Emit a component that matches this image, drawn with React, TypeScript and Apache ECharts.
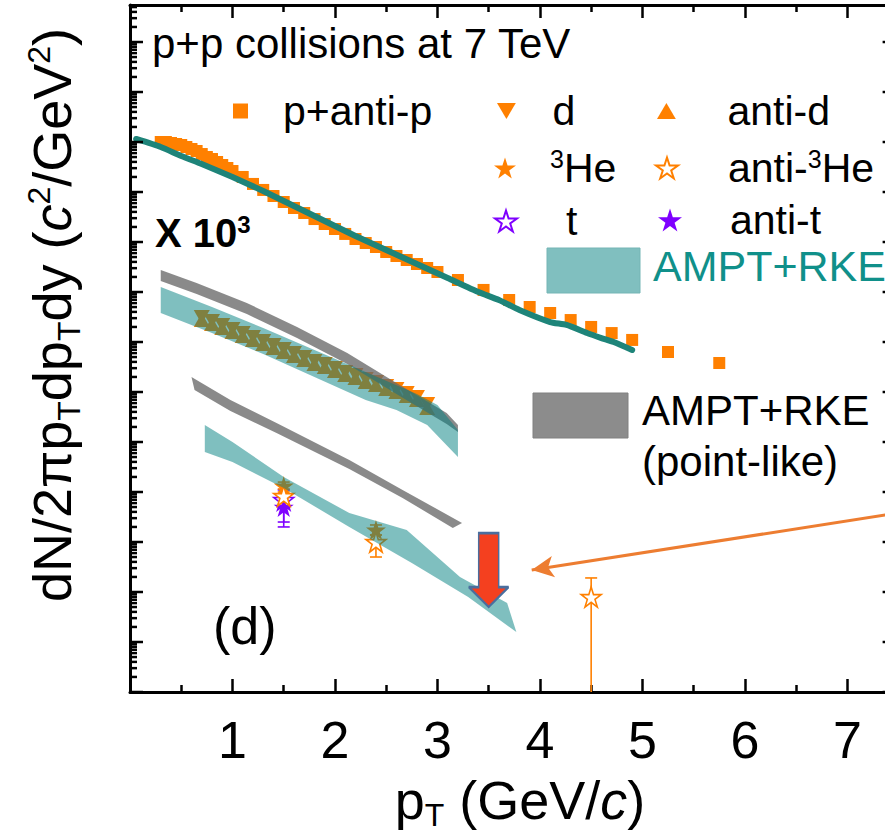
import React, { useEffect, useRef } from 'react';
import * as echarts from 'echarts';

const FONT = '"Liberation Sans", Arial, Helvetica, sans-serif';
const ORANGE = '#ff8000';
const PURPLE = '#7f00ff';
const TEAL_FILL = 'rgba(0,128,128,0.5)';
const TEAL_LINE = '#1e8479';
const GRAY_FILL = 'rgba(105,105,105,0.78)';

const X_MIN = 0;
const X_MAX = 7.5;
const Y_MIN = 1e-12;
const Y_MAX = 55;

// p + anti-p spectrum
const protonPt = [0.3, 0.35, 0.4, 0.45, 0.5, 0.55, 0.6, 0.65, 0.7, 0.75, 0.8, 0.85, 0.9, 0.95, 1.0,
  1.1, 1.2, 1.3, 1.4, 1.5, 1.6, 1.7, 1.8, 1.9, 2.0, 2.1, 2.2, 2.3, 2.4, 2.5, 2.6, 2.7, 2.8, 2.9, 3.0,
  3.2, 3.45, 3.7, 3.9, 4.1, 4.3, 4.5, 4.7, 4.9, 5.25, 5.75];
const protonYield = [1.00e-1, 1.00e-1, 9.55e-2, 9.12e-2, 8.71e-2, 7.94e-2, 7.24e-2, 6.61e-2, 5.75e-2, 5.01e-2,
  4.57e-2, 3.98e-2, 3.47e-2, 3.02e-2, 2.63e-2,
  2.00e-2, 1.45e-2, 1.10e-2, 8.32e-3, 6.31e-3, 4.79e-3, 3.80e-3, 2.88e-3, 2.29e-3, 1.82e-3,
  1.45e-3, 1.15e-3, 9.55e-4, 7.94e-4, 6.31e-4, 5.25e-4, 4.37e-4, 3.63e-4, 3.02e-4, 2.51e-4,
  1.74e-4, 1.10e-4, 6.92e-5, 5.01e-5, 3.80e-5, 2.75e-5, 2.00e-5, 1.51e-5, 1.10e-5, 6.31e-6, 3.80e-6];

// AMPT+RKE curve for protons
const amptProtonPt = [0.06, 0.3, 0.5, 0.7, 1.0, 1.3, 1.6, 1.9, 2.2, 2.5, 2.8, 3.1, 3.4, 3.6, 3.8, 4.1, 4.26, 4.46, 4.6, 4.72, 4.9];
const amptProtonYield = [1.15e-1, 7.94e-2, 5.25e-2, 3.63e-2, 2.00e-2, 1.05e-2, 5.25e-3, 2.63e-3, 1.32e-3, 6.92e-4,
  3.63e-4, 1.91e-4, 1.00e-4, 6.92e-5, 4.37e-5, 2.51e-5, 2.19e-5, 1.51e-5, 1.20e-5, 1.00e-5, 6.92e-6];

// deuterons (x 10^3)
const deuteronPt = [0.7, 0.8, 0.9, 1.0, 1.1, 1.2, 1.3, 1.4, 1.5, 1.6, 1.7, 1.8, 1.9, 2.0, 2.1, 2.2, 2.3, 2.4, 2.5, 2.6, 2.7, 2.8, 2.9];
const deuteronYield = [3.16e-5, 2.63e-5, 2.19e-5, 1.82e-5, 1.51e-5, 1.26e-5, 1.05e-5, 8.71e-6, 7.24e-6, 6.03e-6,
  5.01e-6, 4.17e-6, 3.63e-6, 3.02e-6, 2.51e-6, 2.19e-6, 1.82e-6, 1.58e-6, 1.32e-6, 1.15e-6, 9.55e-7, 7.94e-7, 5.75e-7];
const antiDeuteronYield = [2.75e-5, 2.29e-5, 1.91e-5, 1.58e-5, 1.32e-5, 1.10e-5, 9.12e-6, 7.59e-6, 6.31e-6, 5.25e-6,
  4.37e-6, 3.63e-6, 3.16e-6, 2.63e-6, 2.19e-6, 1.91e-6, 1.58e-6, 1.38e-6, 1.15e-6, 1.00e-6, 8.32e-7, 6.92e-7, 4.79e-7];

// model bands: upper edge left to right, lower edge right to left
const dBandUpperPt = [0.3, 0.8, 1.3, 1.8, 2.3, 2.8, 3.0, 3.2];
const dBandUpper = [1.26e-4, 5.01e-5, 1.91e-5, 6.92e-6, 2.51e-6, 9.12e-7, 5.50e-7, 1.74e-7];
const dBandLowerPt = [3.2, 2.9, 2.6, 2.3, 1.8, 1.3, 0.8, 0.3];
const dBandLower = [5.01e-8, 2.19e-7, 4.37e-7, 6.92e-7, 2.00e-6, 5.75e-6, 1.51e-5, 3.80e-5];

const dPointUpperPt = [0.3, 0.65, 1.14, 1.63, 2.12, 2.6, 3.09, 3.2];
const dPointUpper = [2.75e-4, 1.51e-4, 6.03e-5, 2.00e-5, 6.03e-6, 1.51e-6, 3.80e-7, 2.19e-7];
const dPointLowerPt = [3.2, 3.09, 2.6, 2.12, 1.63, 1.14, 0.65, 0.3];
const dPointLower = [1.58e-7, 2.29e-7, 9.12e-7, 3.63e-6, 1.20e-5, 3.63e-5, 9.12e-5, 1.66e-4];

const heBandUpperPt = [0.73, 1.0, 1.5, 2.14, 2.7, 3.22, 3.68, 3.77];
const heBandUpper = [2.19e-7, 1.00e-7, 2.00e-8, 3.80e-9, 1.74e-9, 2.00e-10, 6.03e-11, 1.58e-11];
const heBandLowerPt = [3.77, 3.3, 2.75, 2.14, 1.5, 1.0, 0.73];
const heBandLower = [1.58e-11, 7.94e-11, 3.80e-10, 2.00e-9, 1.20e-8, 3.98e-8, 6.31e-8];

const hePointUpperPt = [0.6, 0.98, 1.43, 2.14, 2.66, 3.24];
const hePointUpper = [2.00e-6, 6.92e-7, 2.40e-7, 4.37e-8, 1.10e-8, 2.40e-9];
const hePointLowerPt = [3.15, 2.66, 2.14, 1.43, 0.98, 0.63];
const hePointLower = [1.91e-9, 7.59e-9, 2.88e-8, 1.51e-7, 4.17e-7, 1.10e-6];

// A = 3 nuclei: [pT, yield] and [pT, low, high]
const he3 = [[1.5, 1.32e-8], [2.4, 1.74e-9]];
const he3Err = [[1.5, 1.00e-8, 1.58e-8], [2.4, 1.38e-9, 2.19e-9]];
const antiHe3 = [[1.5, 8.32e-9], [2.4, 1.00e-9], [4.5, 7.94e-11]];
const antiHe3Err = [[1.5, 5.75e-9, 1.15e-8], [2.4, 5.01e-10, 1.38e-9], [4.5, Y_MIN, 1.91e-10]];
const triton = [[1.5, 6.92e-9]];
const tritonErr = [[1.5, 2.51e-9, 1.10e-8]];
const antiTriton = [[1.5, 5.01e-9]];
const antiTritonErr = [[1.5, 2.00e-9, 8.71e-9]];

// upper limit marker and the annotation pointing at it
const upperLimit = [[3.5, 2.75e-10]];
const noteFrom = [7.5, 3.82e-9];
const noteTo = [3.92, 2.75e-10];

const X_TICK_LABELS = ['', '1', '2', '3', '4', '5', '6', '7'];
const Y_DECADES = [-12, -11, -10, -9, -8, -7, -6, -5, -4, -3, -2, -1, 0, 1];
const Y_MINOR = [2, 3, 4, 5, 6, 7, 8, 9];

const STAR = 'path://M50,0L61.2,34.5L97.6,34.5L68.2,55.9L79.4,90.5L50,69.1L20.6,90.5L31.8,55.9L2.4,34.5L38.8,34.5Z';
const TRI_DOWN = 'path://M0,0L20,0L10,17Z';
const TRI_UP = 'path://M10,0L20,17L0,17Z';
const ARROW_DOWN = 'path://M10,0H30V54H40L20,74L0,54H10Z';

const zip = (xs: number[], ys: number[]) => xs.map((x, i) => [x, ys[i]]);

const yTicks: number[][] = [];
Y_DECADES.forEach((k) => {
  yTicks.push([0, Math.pow(10, k), 1]);
  Y_MINOR.forEach((m) => {
    const v = m * Math.pow(10, k);
    if (v < Y_MAX) yTicks.push([0, v, 0]);
  });
});

const bandSeries = (name: string, upper: number[][], lower: number[][], fill: string, z: number) => ({
  type: 'custom',
  name,
  z,
  silent: true,
  data: [[1, 1]],
  renderItem: (_p: any, api: any) => ({
    type: 'polygon',
    shape: { points: [...upper, ...lower].map((pt) => api.coord(pt)) },
    style: { fill, stroke: 'none' },
  }),
});

const errorSeries = (data: number[][], color: string, z: number) => ({
  type: 'custom',
  z,
  silent: true,
  encode: { x: 0, y: [1, 2] },
  data,
  renderItem: (_p: any, api: any) => {
    const x = api.value(0);
    const lo = api.value(1);
    const hi = api.value(2);
    const a = api.coord([x, hi]);
    const b = api.coord([x, lo]);
    const st = { stroke: color, lineWidth: 1.6 };
    const children: any[] = [
      { type: 'line', shape: { x1: a[0], y1: a[1], x2: b[0], y2: b[1] }, style: st },
      { type: 'line', shape: { x1: a[0] - 6, y1: a[1], x2: a[0] + 6, y2: a[1] }, style: st },
    ];
    if (lo > Y_MIN) {
      children.push({ type: 'line', shape: { x1: b[0] - 6, y1: b[1], x2: b[0] + 6, y2: b[1] }, style: st });
    }
    return { type: 'group', children };
  },
});

const LEGEND_TEXT: Record<string, string> = {
  'p+anti-p': 'p+anti-p',
  d: 'd',
  'anti-d': 'anti-d',
  '3He': '{sup|3}He',
  'anti-3He': 'anti-{sup|3}He',
  t: 't',
  'anti-t': 'anti-t',
};

const legendAt = (name: string, left: number, cy: number, w: number, h: number, textLeft: number, extra: any = {}) => ({
  show: true,
  left,
  top: cy - 23,
  padding: 0,
  itemWidth: w,
  itemHeight: h,
  selectedMode: false,
  data: [{ name, ...extra }],
  formatter: (n: string) => LEGEND_TEXT[n],
  textStyle: {
    fontFamily: FONT,
    fontSize: 41,
    color: '#000',
    lineHeight: 46,
    padding: [0, 0, 0, textLeft - left - w - 5],
    rich: { sup: { fontFamily: FONT, fontSize: 25, color: '#000', padding: [0, 0, 18, 0] } },
  },
});

const xAxisBase = {
  type: 'value',
  min: X_MIN,
  max: X_MAX,
  interval: 1,
  axisLine: { show: true, onZero: false, lineStyle: { color: '#000', width: 3 } },
  axisTick: { show: true, inside: true, length: 13, lineStyle: { color: '#000', width: 2.5 } },
  minorTick: { show: true, splitNumber: 2, length: 7, lineStyle: { color: '#000', width: 2.5 } },
  splitLine: { show: false },
};

const yAxisBase = {
  type: 'log',
  logBase: 10,
  min: Y_MIN,
  max: Y_MAX,
  axisLine: { show: true, onZero: false, lineStyle: { color: '#000', width: 3 } },
  axisTick: { show: false },
  minorTick: { show: false },
  axisLabel: { show: false },
  splitLine: { show: false },
};

const option: any = {
  animation: false,
  backgroundColor: '#fff',
  grid: { left: 130, top: 5, width: 768.6, height: 687, containLabel: false, outerBoundsMode: 'none' },
  xAxis: [
    {
      ...xAxisBase,
      position: 'bottom',
      axisLabel: {
        show: true,
        margin: 22,
        fontFamily: FONT,
        fontSize: 52,
        color: '#000',
        formatter: (v: number) => X_TICK_LABELS[Math.round(v)] ?? '',
      },
    },
    { ...xAxisBase, position: 'top', axisLabel: { show: false } },
  ],
  yAxis: [
    { ...yAxisBase, position: 'left' },
    { ...yAxisBase, position: 'right' },
  ],
  legend: [
    legendAt('p+anti-p', 233, 111, 15, 15, 283, { icon: 'rect' }),
    legendAt('d', 497, 111, 20, 16, 553, { icon: TRI_DOWN }),
    legendAt('anti-d', 657, 111, 20, 16, 728, { icon: TRI_UP }),
    legendAt('3He', 494, 168, 22, 22, 550, { icon: STAR }),
    legendAt('anti-3He', 655, 168, 22, 22, 727, { icon: STAR, itemStyle: { color: '#fff', borderColor: ORANGE, borderWidth: 2 } }),
    legendAt('t', 494, 221, 22, 22, 565, { icon: STAR, itemStyle: { color: '#fff', borderColor: PURPLE, borderWidth: 2 } }),
    legendAt('anti-t', 658, 220, 24, 24, 730, { icon: STAR }),
  ],
  graphic: [
    {
      type: 'text', left: 152, top: 22, silent: true,
      style: { text: 'p+p collisions at 7 TeV', fontFamily: FONT, fontSize: 42, fill: '#000' },
    },
    {
      type: 'text', left: 155, top: 212, silent: true,
      style: {
        text: '{b|X 10}{s|3}', fill: '#000',
        rich: {
          b: { fontFamily: FONT, fontSize: 40, fontWeight: 'bold', fill: '#000' },
          s: { fontFamily: FONT, fontSize: 24, fontWeight: 'bold', fill: '#000', padding: [0, 0, 18, 0] },
        },
      },
    },
    {
      type: 'text', left: 213, top: 600, silent: true,
      style: { text: '(d)', fontFamily: FONT, fontSize: 52, fill: '#000' },
    },
    {
      type: 'rect', silent: true,
      shape: { x: 547, y: 248, width: 93, height: 45 },
      style: { fill: '#80bfbf', stroke: '#74b5b5', lineWidth: 1 },
    },
    {
      type: 'text', left: 653, top: 244, silent: true,
      style: { text: 'AMPT+RKE', fontFamily: FONT, fontSize: 43, fill: '#10908a' },
    },
    {
      type: 'rect', silent: true,
      shape: { x: 533, y: 393, width: 95, height: 45 },
      style: { fill: '#8c8c8c', stroke: '#808080', lineWidth: 1 },
    },
    {
      type: 'text', left: 642, top: 389, silent: true,
      style: { text: 'AMPT+RKE', fontFamily: FONT, fontSize: 42, fill: '#000' },
    },
    {
      type: 'text', left: 642, top: 440, silent: true,
      style: { text: '(point-like)', fontFamily: FONT, fontSize: 42, fill: '#000' },
    },
    {
      type: 'text', x: 520, y: 800, silent: true,
      style: {
        text: '{n|p}{sub|T}{n| (GeV/}{i|c}{n|)}',
        align: 'center', verticalAlign: 'middle', fill: '#000',
        rich: {
          n: { fontFamily: FONT, fontSize: 54, fill: '#000' },
          i: { fontFamily: FONT, fontSize: 54, fontStyle: 'italic', fill: '#000' },
          sub: { fontFamily: FONT, fontSize: 32, fill: '#000', padding: [30, 0, 0, 0] },
        },
      },
    },
    {
      type: 'text', x: 52, y: 315, rotation: Math.PI / 2, silent: true,
      style: {
        text: '{n|dN/2\u03C0p}{sub|T}{n|dp}{sub|T}{n|dy (}{i|c}{sup|2}{n|/GeV}{sup|2}{n|)}',
        align: 'center', verticalAlign: 'middle', fill: '#000',
        rich: {
          n: { fontFamily: FONT, fontSize: 54, fill: '#000' },
          i: { fontFamily: FONT, fontSize: 54, fontStyle: 'italic', fill: '#000' },
          sub: { fontFamily: FONT, fontSize: 32, fill: '#000', padding: [34, 0, 0, 0] },
          sup: { fontFamily: FONT, fontSize: 32, fill: '#000', padding: [0, 0, 26, 0] },
        },
      },
    },
  ],
  series: [
    {
      type: 'custom',
      silent: true,
      z: 10,
      data: yTicks,
      renderItem: (_p: any, api: any) => {
        const v = api.value(1);
        const major = api.value(2) === 1;
        const l = api.coord([X_MIN, v]);
        const r = api.coord([X_MAX, v]);
        const st = { stroke: '#000', lineWidth: 2.5 };
        return {
          type: 'group',
          children: [
            { type: 'line', shape: { x1: l[0], y1: l[1], x2: l[0] + (major ? 13 : 7), y2: l[1] }, style: st },
            { type: 'line', shape: { x1: r[0], y1: r[1], x2: r[0] - (major ? 16 : 7), y2: r[1] }, style: st },
          ],
        };
      },
    },
    {
      name: 'p+anti-p', type: 'scatter', z: 2, symbol: 'rect', symbolSize: 12,
      itemStyle: { color: ORANGE, opacity: 1 }, data: zip(protonPt, protonYield),
    },
    {
      name: 'd', type: 'scatter', z: 2, symbol: TRI_DOWN, symbolSize: [16, 14],
      itemStyle: { color: ORANGE, opacity: 1 }, data: zip(deuteronPt, deuteronYield),
    },
    {
      name: 'anti-d', type: 'scatter', z: 2, symbol: TRI_UP, symbolSize: [16, 14],
      itemStyle: { color: ORANGE, opacity: 1 }, data: zip(deuteronPt, antiDeuteronYield),
    },
    errorSeries(tritonErr, PURPLE, 2),
    errorSeries(antiTritonErr, PURPLE, 2),
    {
      name: 't', type: 'scatter', z: 2, symbol: STAR, symbolSize: 20,
      itemStyle: { color: '#fff', borderColor: PURPLE, borderWidth: 1.5, opacity: 1 }, data: triton,
    },
    {
      name: 'anti-t', type: 'scatter', z: 2, symbol: STAR, symbolSize: 20,
      itemStyle: { color: PURPLE, opacity: 1 }, data: antiTriton,
    },
    errorSeries(he3Err, ORANGE, 2),
    errorSeries(antiHe3Err, ORANGE, 2),
    {
      name: '3He', type: 'scatter', z: 2, symbol: STAR, symbolSize: 20,
      itemStyle: { color: ORANGE, opacity: 1 }, data: he3,
    },
    {
      name: 'anti-3He', type: 'scatter', z: 2, symbol: STAR, symbolSize: 20,
      itemStyle: { color: '#fff', borderColor: ORANGE, borderWidth: 1.6, opacity: 1 }, data: antiHe3,
    },
    bandSeries('AMPT+RKE (point-like)', zip(dPointUpperPt, dPointUpper), zip(dPointLowerPt, dPointLower), GRAY_FILL, 3),
    bandSeries('AMPT+RKE (point-like) A=3', zip(hePointUpperPt, hePointUpper), zip(hePointLowerPt, hePointLower), GRAY_FILL, 3),
    bandSeries('AMPT+RKE', zip(dBandUpperPt, dBandUpper), zip(dBandLowerPt, dBandLower), TEAL_FILL, 4),
    bandSeries('AMPT+RKE A=3', zip(heBandUpperPt, heBandUpper), zip(heBandLowerPt, heBandLower), TEAL_FILL, 4),
    {
      name: 'AMPT+RKE p', type: 'line', z: 5, symbol: 'none', smooth: 0.2, silent: true,
      lineStyle: { color: TEAL_LINE, width: 6, cap: 'round' },
      data: zip(amptProtonPt, amptProtonYield),
    },
    {
      type: 'scatter', z: 6, silent: true, symbol: ARROW_DOWN, symbolSize: [40, 74],
      itemStyle: { color: '#f4401f', borderColor: '#4a6e9e', borderWidth: 2, opacity: 1 },
      data: upperLimit,
      markLine: {
        silent: true,
        symbol: ['none', 'arrow'],
        symbolSize: [16, 22],
        label: { show: false },
        lineStyle: { color: '#ed7d31', width: 3, type: 'solid' },
        data: [[{ coord: noteFrom }, { coord: noteTo }]],
      },
    },
  ],
};

export default function App() {
  const ref = useRef<HTMLDivElement>(null);
  useEffect(() => {
    if (!ref.current) return;
    const chart = echarts.init(ref.current, undefined, { renderer: 'svg' });
    chart.setOption(option);
    return () => chart.dispose();
  }, []);
  return (
    <div style={{ position: 'fixed', left: 0, top: 0, width: 885, height: 834, overflow: 'hidden', background: '#fff' }}>
      <div ref={ref} style={{ width: 910, height: 834 }} />
    </div>
  );
}
